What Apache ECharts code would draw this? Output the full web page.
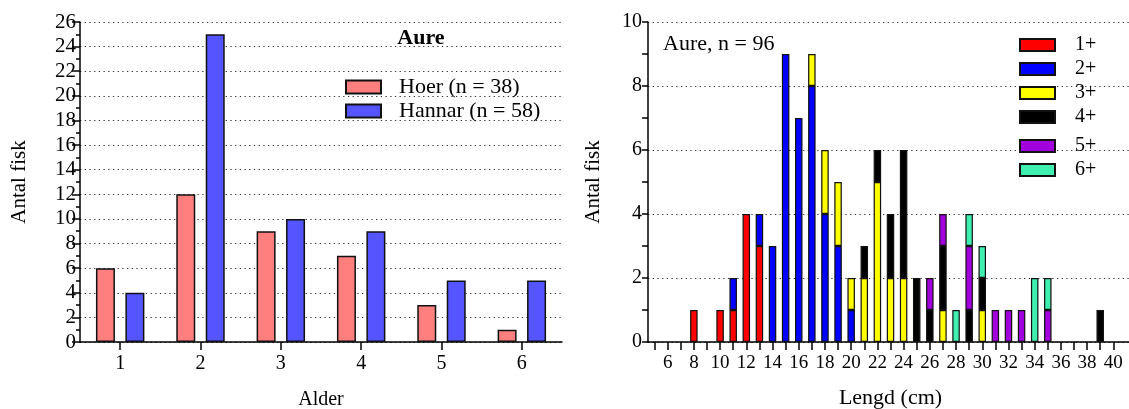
<!DOCTYPE html>
<html>
<head>
<meta charset="utf-8">
<script src="https://cdn.jsdelivr.net/npm/echarts@6/dist/echarts.min.js"></script>
<style>
html,body{margin:0;padding:0;background:#fff;overflow:hidden;}
#c{width:1129px;height:409px;}
</style>
</head>
<body>
<div id="c"></div>
<script>
// ---- Left chart data ----
const ageCategories = ['1', '2', '3', '4', '5', '6'];
const hoerName = 'Hoer (n = 38)';
const hannarName = 'Hannar (n = 58)';
const hoer = [6, 12, 9, 7, 3, 1];
const hannar = [4, 25, 10, 9, 5, 5];
const leftTitle = 'Aure';

// ---- Right chart data ----
const lengthCategories = ['5','6','7','8','9','10','11','12','13','14','15','16','17','18','19','20','21','22','23','24','25','26','27','28','29','30','31','32','33','34','35','36','37','38','39','40','41'];
const ageNames = ['1+', '2+', '3+', '4+', '5+', '6+'];
//               5 6 7 8 9 10 11 12 13 14 15 16 17 18 19 20 21 22 23 24 25 26 27 28 29 30 31 32 33 34 35 36 37 38 39 40 41
const age1 =    [0,0,0,1,0, 1, 1, 4, 3, 0, 0, 0, 0, 0, 0, 0, 0, 0, 0, 0, 0, 0, 0, 0, 0, 0, 0, 0, 0, 0, 0, 0, 0, 0, 0, 0, 0];
const age2 =    [0,0,0,0,0, 0, 1, 0, 1, 3, 9, 7, 8, 4, 3, 1, 0, 0, 0, 0, 0, 0, 0, 0, 0, 0, 0, 0, 0, 0, 0, 0, 0, 0, 0, 0, 0];
const age3 =    [0,0,0,0,0, 0, 0, 0, 0, 0, 0, 0, 1, 2, 2, 1, 2, 5, 2, 2, 0, 0, 1, 0, 0, 1, 0, 0, 0, 0, 0, 0, 0, 0, 0, 0, 0];
const age4 =    [0,0,0,0,0, 0, 0, 0, 0, 0, 0, 0, 0, 0, 0, 0, 1, 1, 2, 4, 2, 1, 2, 0, 1, 1, 0, 0, 0, 0, 0, 0, 0, 0, 1, 0, 0];
const age5 =    [0,0,0,0,0, 0, 0, 0, 0, 0, 0, 0, 0, 0, 0, 0, 0, 0, 0, 0, 0, 1, 1, 0, 2, 0, 1, 1, 1, 0, 1, 0, 0, 0, 0, 0, 0];
const age6 =    [0,0,0,0,0, 0, 0, 0, 0, 0, 0, 0, 0, 0, 0, 0, 0, 0, 0, 0, 0, 0, 0, 1, 1, 1, 0, 0, 0, 2, 1, 0, 0, 0, 0, 0, 0];
const rightTitle = 'Aure, n = 96';
const ageColors = ['#ff0000', '#0000ff', '#ffff00', '#000000', '#a200dc', '#40f0b0'];

const FONT = 'Liberation Serif, Times New Roman, serif';
const el = document.getElementById('c');
const chart = echarts.init(el, null, {renderer: 'canvas', width: 1129, height: 409});

const gridLine = {show: true, lineStyle: {color: '#333', width: 1, type: [1.3, 3.4]}};
const axisLine = {show: true, onZero: false, lineStyle: {color: '#000', width: 1.5}};

const stackSeries = [age1, age2, age3, age4, age5, age6].map((arr, i) => ({
  name: ageNames[i],
  type: 'bar',
  stack: 'len',
  xAxisIndex: 1,
  yAxisIndex: 1,
  barWidth: 7.5,
  data: arr.map(v => v === 0 ? null : v),
  itemStyle: {color: ageColors[i], borderColor: '#111', borderWidth: 1.2},
  emphasis: {disabled: true}
}));

chart.setOption({
  animation: false,
  textStyle: {fontFamily: FONT},
  title: [
    {text: leftTitle, left: 416, top: 22, textAlign: 'center',
     textStyle: {fontFamily: FONT, fontWeight: 'bold', fontSize: 22, color: '#000'}},
    {text: rightTitle, left: 658, top: 28,
     textStyle: {fontFamily: FONT, fontWeight: 'normal', fontSize: 22, color: '#000'}}
  ],
  legend: [
    {data: [hoerName, hannarName], orient: 'vertical', left: 345, top: 76, padding: 0,
     itemWidth: 35, itemHeight: 13, itemGap: 2, icon: 'rect', selectedMode: false,
     textStyle: {fontFamily: FONT, fontSize: 22, color: '#000', padding: [0, 0, 0, 13]}},
    {data: ageNames.slice(0, 4), orient: 'vertical', left: 1019, top: 35, padding: 0,
     itemWidth: 35, itemHeight: 12, itemGap: 4, icon: 'rect', selectedMode: false,
     textStyle: {fontFamily: FONT, fontSize: 20, color: '#000', padding: [0, 0, 0, 15]}},
    {data: ageNames.slice(4), orient: 'vertical', left: 1019, top: 136, padding: 0,
     itemWidth: 35, itemHeight: 12, itemGap: 4, icon: 'rect', selectedMode: false,
     textStyle: {fontFamily: FONT, fontSize: 20, color: '#000', padding: [0, 0, 0, 15]}}
  ],
  grid: [
    {left: 80, width: 482, top: 22, height: 320, outerBoundsMode: 'none', containLabel: false},
    {left: 648, width: 485, top: 22, height: 320, outerBoundsMode: 'none', containLabel: false}
  ],
  xAxis: [
    {type: 'category', gridIndex: 0, data: ageCategories,
     name: 'Alder', nameLocation: 'middle', nameGap: 48,
     nameTextStyle: {fontFamily: FONT, fontSize: 20, color: '#000'},
     axisLine: axisLine,
     axisTick: {show: true, alignWithLabel: true, length: 8, lineStyle: {color: '#000', width: 1.5}},
     axisLabel: {fontFamily: FONT, fontSize: 20, color: '#000', margin: 12},
     splitLine: {show: false}},
    {type: 'category', gridIndex: 1, data: lengthCategories,
     name: 'Lengd (cm)', nameLocation: 'middle', nameGap: 45,
     nameTextStyle: {fontFamily: FONT, fontSize: 22, color: '#000'},
     axisLine: axisLine,
     axisTick: {show: true, alignWithLabel: true, length: 8, interval: (i, v) => v !== '41',
                lineStyle: {color: '#000', width: 1.5}},
     axisLabel: {fontFamily: FONT, fontSize: 19, color: '#000', margin: 12,
                 interval: (i, v) => Number(v) % 2 === 0 && v !== '41'},
     splitLine: {show: false}}
  ],
  yAxis: [
    {type: 'value', gridIndex: 0, min: 0, max: 26, interval: 2,
     name: 'Antal fisk', nameLocation: 'middle', nameGap: 50,
     nameTextStyle: {fontFamily: FONT, fontSize: 21, color: '#000'},
     axisLine: axisLine,
     axisTick: {show: true, length: 8, lineStyle: {color: '#000', width: 1.5}},
     minorTick: {show: true, splitNumber: 2, length: 4, lineStyle: {color: '#000', width: 1.5}},
     axisLabel: {fontFamily: FONT, fontSize: 21, color: '#000', margin: 4},
     splitLine: gridLine},
    {type: 'value', gridIndex: 1, min: 0, max: 10, interval: 2,
     name: 'Antal fisk', nameLocation: 'middle', nameGap: 44,
     nameTextStyle: {fontFamily: FONT, fontSize: 21, color: '#000'},
     axisLine: axisLine,
     axisTick: {show: true, length: 6, lineStyle: {color: '#000', width: 1.5}},
     minorTick: {show: true, splitNumber: 2, length: 6, lineStyle: {color: '#000', width: 1.5}},
     axisLabel: {fontFamily: FONT, fontSize: 20, color: '#000', margin: 6},
     splitLine: gridLine}
  ],
  series: [
    {name: hoerName, type: 'bar', xAxisIndex: 0, yAxisIndex: 0, data: hoer,
     barWidth: 19, barGap: '55%',
     itemStyle: {color: '#ff7f7f', borderColor: '#111', borderWidth: 1.5},
     emphasis: {disabled: true}},
    {name: hannarName, type: 'bar', xAxisIndex: 0, yAxisIndex: 0, data: hannar,
     barWidth: 19, barGap: '55%',
     itemStyle: {color: '#5555ff', borderColor: '#111', borderWidth: 1.5},
     emphasis: {disabled: true}}
  ].concat(stackSeries)
});
</script>
</body>
</html>
